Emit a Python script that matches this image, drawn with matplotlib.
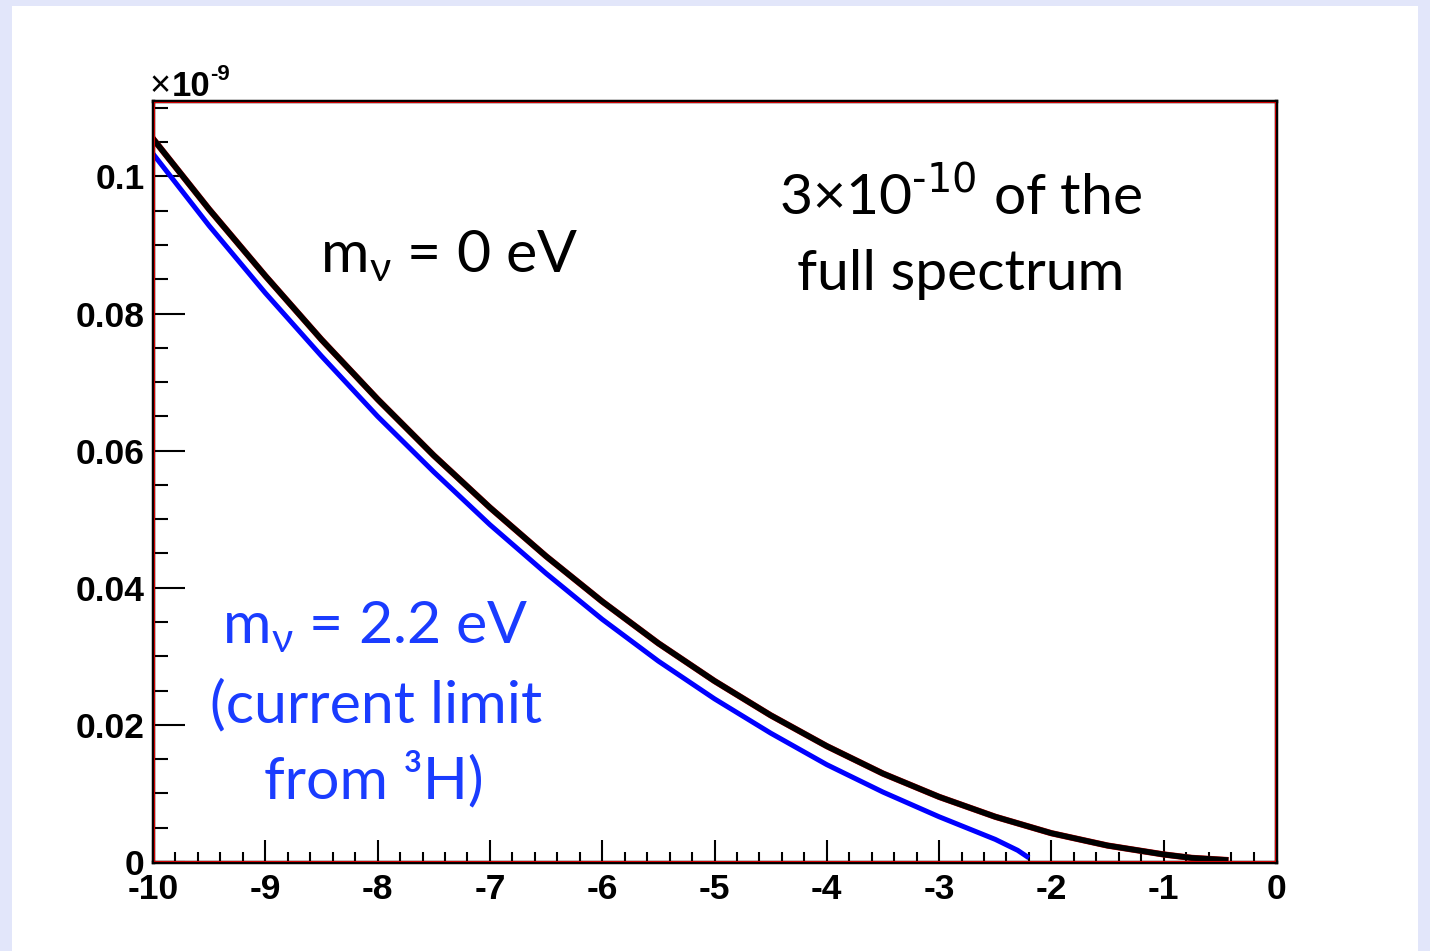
import numpy as np
import matplotlib
matplotlib.use('Agg')
import matplotlib.pyplot as plt
from matplotlib.ticker import MultipleLocator, FuncFormatter

# electron energy relative to the endpoint (eV), rate in units of 1e-9
x_m0 = [-10, -9.5, -9, -8.5, -8, -7.5, -7, -6.5, -6, -5.5, -5, -4.5, -4,
        -3.5, -3, -2.5, -2, -1.5, -1, -0.75, -0.45]
y_m0 = [0.1055, 0.0952, 0.0855, 0.0762, 0.0675, 0.0593, 0.0517, 0.0446,
        0.0380, 0.0319, 0.0264, 0.0214, 0.0169, 0.0129, 0.0095, 0.0066,
        0.0042, 0.0024, 0.0011, 0.0006, 0.0003]

x_m22 = [-10, -9.5, -9, -8.5, -8, -7.5, -7, -6.5, -6, -5.5, -5, -4.5, -4,
         -3.5, -3, -2.5, -2.3, -2.2]
y_m22 = [0.1033, 0.0928, 0.0830, 0.0738, 0.0650, 0.0569, 0.0492, 0.0421,
         0.0354, 0.0293, 0.0238, 0.0188, 0.0142, 0.0102, 0.0066, 0.0033,
         0.0017, 0.0006]

x_ticks = [-10, -9, -8, -7, -6, -5, -4, -3, -2, -1, 0]
y_ticks = [0, 0.02, 0.04, 0.06, 0.08, 0.1]

W, H = 1430, 951
fig = plt.figure(figsize=(W / 100, H / 100), dpi=100)
fig.patch.set_facecolor('#e2e6fa')
# white slide panel
fig.patches.append(plt.Rectangle((12 / W, 0), (1418 - 12) / W, 1 - 6 / H,
                                 transform=fig.transFigure, facecolor='white',
                                 edgecolor='none', zorder=-5))

ax = fig.add_axes([153 / W, (H - 862) / H, (1276 - 153) / W, (862 - 101) / H])
ax.set_zorder(2)
ax.set_xlim(-10, 0)
ax.set_ylim(0, 0.111)

ax.plot(x_m22, y_m22, color='#0000ff', lw=3.6, solid_capstyle='butt',
        solid_joinstyle='round')
ax.plot(x_m0, y_m0, color='#cc0000', lw=4.5, zorder=2, solid_joinstyle='round')
ax.plot(x_m0, y_m0, color='black', lw=4.1, zorder=3, solid_joinstyle='round')

for s in ax.spines.values():
    s.set_color('black')
    s.set_linewidth(2.5)
# thin red inner frame as in the ROOT canvas
ax.add_patch(plt.Rectangle((0.001, 0.0015), 0.998, 0.997, transform=ax.transAxes,
                           fill=False, edgecolor='#d00000', lw=0.8, zorder=5))

ax.xaxis.set_minor_locator(MultipleLocator(0.2))
ax.yaxis.set_minor_locator(MultipleLocator(0.005))
ax.set_xticks(x_ticks)
ax.set_yticks(y_ticks)
ax.xaxis.set_major_formatter(FuncFormatter(lambda v, p: '%g' % v))
ax.yaxis.set_major_formatter(FuncFormatter(lambda v, p: '%g' % round(v, 3)))

tick_font = dict(family='Liberation Sans', weight='bold', size=25.5)
ax.tick_params(axis='x', which='major', direction='in', length=16, width=1.5,
               pad=8, top=False)
ax.tick_params(axis='x', which='minor', direction='in', length=7.5, width=1.5,
               top=False)
ax.tick_params(axis='y', which='major', direction='in', length=23, width=1.5,
               pad=6, right=False)
ax.tick_params(axis='y', which='minor', direction='in', length=11, width=1.5,
               right=False)
for lab in ax.get_xticklabels() + ax.get_yticklabels():
    lab.set_fontproperties(matplotlib.font_manager.FontProperties(**tick_font))

# axis multiplier
fig.text(150 / W, 1 - 96 / H, '×', fontsize=26, family='Liberation Sans',
         va='baseline', ha='left')
fig.text(172 / W, 1 - 96 / H, '10', fontsize=25, fontweight='bold',
         family='Liberation Sans', va='baseline', ha='left')
fig.text(210 / W, 1 - 80 / H, '-9', fontsize=16, fontweight='bold',
         family='Liberation Sans', va='baseline', ha='left')

ann = ['Lato', 'Open Sans', 'DejaVu Sans']
fs = 41
fs2 = 42.5
blue_txt = '#1a3cff'
fig.text(449 / W, 1 - 272 / H, r'm$_\mathregular{ν}$ = 0 eV', fontsize=fs2,
         family=ann, ha='center', va='baseline', color='black')
fig.text(961 / W, 1 - 215 / H, r'3×10$^\mathregular{\text{-10}}$ of the',
         fontsize=fs, family=ann, ha='center', va='baseline', color='black')
fig.text(961 / W, 1 - 290 / H, 'full spectrum', fontsize=fs,
         family=ann, ha='center', va='baseline', color='black')
fig.text(375 / W, 1 - 643 / H, r'm$_\mathregular{ν}$ = 2.2 eV', fontsize=fs2,
         family=ann, ha='center', va='baseline', color=blue_txt)
fig.text(376 / W, 1 - 722 / H, '(current limit', fontsize=fs2,
         family=ann, ha='center', va='baseline', color=blue_txt)
fig.text(374 / W, 1 - 798 / H, 'from ³H)', fontsize=fs2,
         family=ann, ha='center', va='baseline', color=blue_txt)

fig.savefig('out.png', dpi=100, facecolor=fig.get_facecolor())
